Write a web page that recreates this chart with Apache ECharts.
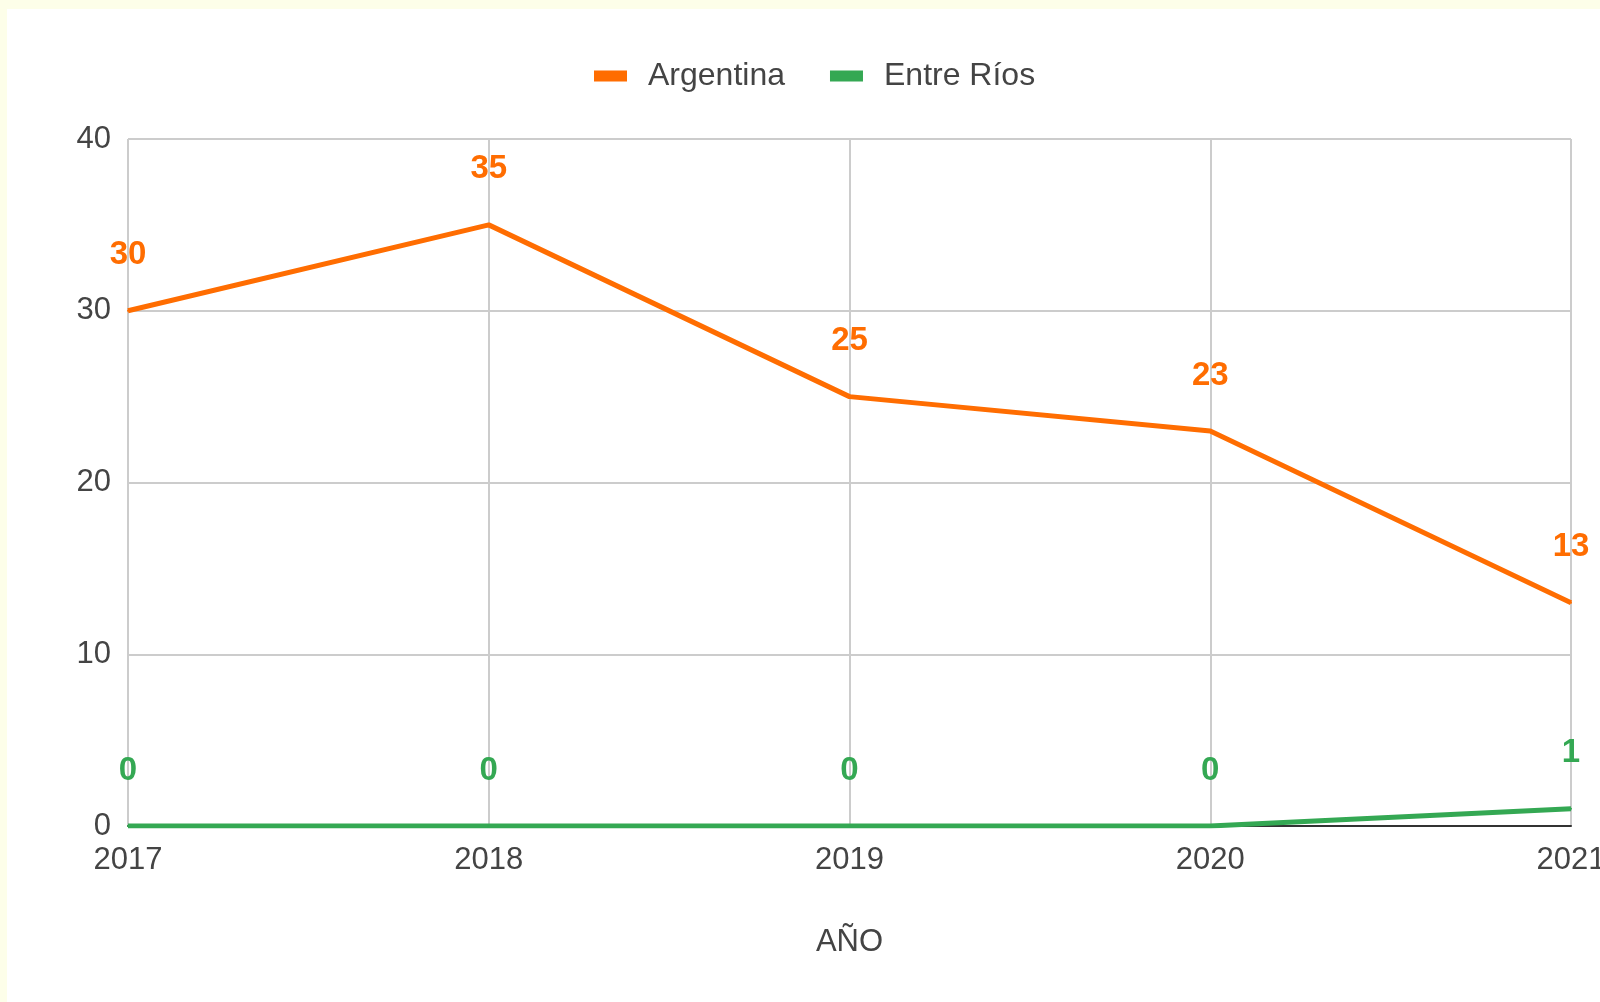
<!DOCTYPE html>
<html>
<head>
<meta charset="utf-8">
<script src="https://cdn.jsdelivr.net/npm/echarts@6/dist/echarts.min.js"></script>
<style>
  html, body { margin: 0; padding: 0; background: #fdfee9; overflow: hidden; }
  #main { position: absolute; left: 7px; top: 9px; width: 1593px; height: 993px; background: #ffffff; }
</style>
</head>
<body>
<div id="main"></div>
<script>
// datos
var years = ['2017', '2018', '2019', '2020', '2021'];
var argentina = [30, 35, 25, 23, 13];
var entreRios = [0, 0, 0, 0, 1];
var yTicks = [0, 10, 20, 30, 40];

var fontName = '"Liberation Sans", Arial, sans-serif';
var myChart = echarts.init(document.getElementById('main'));

function lineSerie(name, data, color) {
    return {
        name: name,
        type: 'line',
        data: data,
        symbol: 'circle',
        symbolSize: 2,
        color: color,
        lineStyle: { width: 5, color: color },
        itemStyle: { color: color },
        label: {
            show: true,
            position: 'top',
            distance: 38,
            color: color,
            fontSize: 33,
            fontWeight: 'bold',
            fontFamily: fontName
        },
        emphasis: { disabled: true },
        animation: false
    };
}

var option = {
    textStyle: { fontFamily: fontName },
    legend: {
        left: 582,
        top: 46,
        icon: 'rect',
        itemWidth: 33,
        itemHeight: 11,
        itemGap: 45,
        textStyle: { fontSize: 32, color: '#444', fontFamily: fontName, padding: [0, 0, 0, 16] },
        data: ['Argentina', 'Entre Ríos']
    },
    grid: {
        left: 121,
        right: 29,
        top: 130,
        bottom: 176,
        outerBoundsMode: 'none'
    },
    xAxis: {
        type: 'category',
        boundaryGap: false,
        data: years,
        name: 'AÑO',
        nameLocation: 'middle',
        nameGap: 101,
        nameTextStyle: { fontSize: 31, color: '#444', fontFamily: fontName },
        axisLine: { show: true, lineStyle: { color: '#333', width: 2 } },
        axisTick: { show: false },
        axisLabel: { fontSize: 31, color: '#444', margin: 19, fontFamily: fontName },
        splitLine: { show: true, lineStyle: { color: '#cccccc', width: 2 } }
    },
    yAxis: {
        type: 'value',
        min: yTicks[0],
        max: yTicks[yTicks.length - 1],
        interval: 10,
        axisLine: { show: false },
        axisTick: { show: false },
        axisLabel: { fontSize: 31, color: '#444', margin: 17, fontFamily: fontName },
        splitLine: { show: true, lineStyle: { color: '#cccccc', width: 2 } }
    },
    series: [
        lineSerie('Argentina', argentina, '#ff6d01'),
        lineSerie('Entre Ríos', entreRios, '#34a853')
    ]
};

myChart.setOption(option);
</script>
</body>
</html>
